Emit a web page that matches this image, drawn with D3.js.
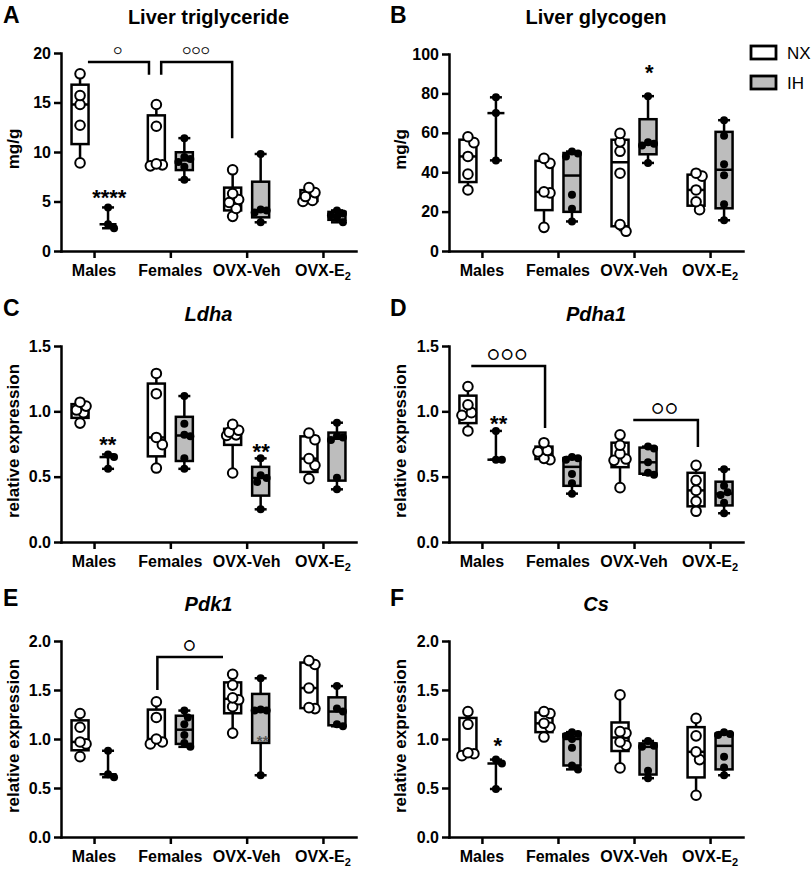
<!DOCTYPE html>
<html><head><meta charset="utf-8">
<script src="https://cdn.jsdelivr.net/npm/d3@7"></script>
<style>
body{margin:0;background:#fff;}
svg{display:block;font-family:"Liberation Sans",Arial,Helvetica,sans-serif;}
</style></head><body>
<svg id="chart" width="812" height="871"></svg>
<script>
// ---------------- DATA ----------------
const categories = ["Males", "Females", "OVX-Veh", "OVX-E2"];
const groupNames = ["NX", "IH"];

// A: Liver triglyceride (mg/g)
const trigNX = [[8.9,12.7,14.8,15.7,17.9],[8.6,8.7,8.8,12.6,14.8],[3.5,4.3,4.9,5.2,5.8,8.2],[5.0,5.1,5.5,5.9,6.4]];
const trigIH = [[2.3,2.7,4.4],[7.2,8.5,9.0,9.3,9.5,11.4],[2.9,3.9,4.1,4.2,9.8],[2.9,3.4,3.6,3.8,4.1]];
const trigTicks = [0,5,10,15,20];
const trigBrackets = [
  {x1:-0.08, x2:0.72, y:19.1, end1:null, end2:17.8, label:"○"},
  {x1:0.88, x2:1.81, y:19.1, end1:17.8, end2:11.4, label:"○○○"}
];
const trigStars = [{u:0.2, v:5.96, text:"****"}];

// B: Liver glycogen (mg/g)
const glyNX = [[31,39,48,55,58],[12,29.5,30,44.5,47],[10,13.4,39.5,50.6,55.4,59.7],[21,25,31,38,39.5]];
const glyIH = [[46,70,78],[15,21.5,28.6,48,49.5,50.5],[44.7,53.5,54.5,55.2,78.6],[15.6,23.7,38.5,44,58.5,66.4]];
const glyTicks = [0,20,40,60,80,100];
const glyBrackets = [];
const glyStars = [{u:2.2, v:93.4, text:"*"}];

// C: Ldha (relative expression)
const ldhaNX = [[0.91,0.99,1.01,1.04,1.07],[0.566,0.745,0.80,1.135,1.29],[0.528,0.815,0.82,0.84,0.855,0.90],[0.485,0.587,0.638,0.783,0.834]];
const ldhaIH = [[0.56,0.65,0.67],[0.56,0.64,0.81,0.82,0.905,1.117],[0.25,0.46,0.49,0.51,0.64],[0.403,0.492,0.78,0.80,0.812,0.913]];
const exprTicks15 = [0,0.5,1.0,1.5];
const ldhaBrackets = [];
const ldhaStars = [{u:0.18, v:0.788, text:"**"},{u:2.19, v:0.735, text:"**"}];

// D: Pdha1
const pdhaNX = [[0.85,0.97,0.99,1.05,1.19],[0.63,0.64,0.69,0.70,0.76],[0.416,0.625,0.635,0.676,0.74,0.82],[0.235,0.311,0.395,0.472,0.587]];
const pdhaIH = [[0.63,0.63,0.85],[0.37,0.45,0.52,0.63,0.64,0.65],[0.515,0.53,0.61,0.715,0.73],[0.22,0.30,0.36,0.38,0.43,0.556]];
const pdhaBrackets = [
  {x1:-0.14, x2:0.83, y:1.347, end1:null, end2:0.872, label:"○○○"},
  {x1:1.99, x2:2.84, y:0.934, end1:null, end2:0.727, label:"○○"}
];
const pdhaStars = [{u:0.22, v:0.949, text:"**"}];

// E: Pdk1
const pdkNX = [[0.82,0.95,0.97,1.12,1.26],[0.95,0.97,1.0,1.22,1.38],[1.06,1.33,1.40,1.42,1.55,1.66],[1.31,1.32,1.52,1.76,1.80]];
const pdkIH = [[0.61,0.64,0.88],[0.92,0.96,1.04,1.15,1.22,1.29],[0.63,1.29,1.29,1.30,1.62],[1.13,1.15,1.28,1.31,1.54]];
const exprTicks20 = [0,0.5,1.0,1.5,2.0];
const pdkBrackets = [{x1:0.83, x2:1.69, y:1.837, end1:1.5, end2:null, label:"○"}];
const pdkStars = [{u:2.21, v:1.02, text:"**", small:true}];

// F: Cs
const csNX = [[0.83,0.85,0.86,1.15,1.28],[1.02,1.12,1.16,1.26,1.28],[0.705,0.935,0.97,1.06,1.075,1.45],[0.426,0.79,0.869,1.032,1.21]];
const csIH = [[0.49,0.75,0.79],[0.69,0.73,0.91,1.0,1.03,1.05,1.07],[0.60,0.675,0.92,0.93,0.98],[0.63,0.71,0.82,1.04,1.05,1.07]];
const csBrackets = [];
const csStars = [{u:0.21, v:0.99, text:"*"}];

// ---------------- LAYOUT / STYLE ----------------
const FONT = '"Liberation Sans", Arial, Helvetica, sans-serif';
const RING_FONT = '"DejaVu Sans", sans-serif';
const IH_FILL = "#bdbdbd";
const LW = 2.5;
const fmtInt = d3.format("d"), fmt1 = d3.format(".1f");

const panels = [
  {letter:"A", title:"Liver triglyceride", italic:false, ylab:"mg/g", nx:trigNX, ih:trigIH, ticks:trigTicks, ymax:20, fmt:fmtInt,
   brackets:trigBrackets, stars:trigStars, left:61, right:356, top:53, bottom:251, lx:3, ly:23, ty:24, ringSize:9, ringGap:1.5, ringStroke:0.3},
  {letter:"B", title:"Liver glycogen", italic:false, ylab:"mg/g", nx:glyNX, ih:glyIH, ticks:glyTicks, ymax:100, fmt:fmtInt,
   brackets:glyBrackets, stars:glyStars, left:449, right:743, top:54, bottom:251, lx:390, ly:23, ty:24, ringSize:13, ringGap:2, ringStroke:0.6},
  {letter:"C", title:"Ldha", italic:true, ylab:"relative expression", nx:ldhaNX, ih:ldhaIH, ticks:exprTicks15, ymax:1.5, fmt:fmt1,
   brackets:ldhaBrackets, stars:ldhaStars, left:61, right:356, top:346, bottom:542, lx:3, ly:316, ty:321, ringSize:13, ringGap:2, ringStroke:0.6},
  {letter:"D", title:"Pdha1", italic:true, ylab:"relative expression", nx:pdhaNX, ih:pdhaIH, ticks:exprTicks15, ymax:1.5, fmt:fmt1,
   brackets:pdhaBrackets, stars:pdhaStars, left:449, right:743, top:346, bottom:542, lx:390, ly:316, ty:321, ringSize:13, ringGap:2.5, ringStroke:0.6},
  {letter:"E", title:"Pdk1", italic:true, ylab:"relative expression", nx:pdkNX, ih:pdkIH, ticks:exprTicks20, ymax:2.0, fmt:fmt1,
   brackets:pdkBrackets, stars:pdkStars, left:61, right:356, top:641, bottom:837, lx:3, ly:606, ty:611, ringSize:13, ringGap:2, ringStroke:0.6},
  {letter:"F", title:"Cs", italic:true, ylab:"relative expression", nx:csNX, ih:csIH, ticks:exprTicks20, ymax:2.0, fmt:fmt1,
   brackets:csBrackets, stars:csStars, left:449, right:743, top:641, bottom:837, lx:390, ly:606, ty:611, ringSize:13, ringGap:2, ringStroke:0.6}
];

const svg = d3.select("#chart");

// GraphPad-style percentile ((n+1)p with interpolation)
function pct(s, p){
  const n = s.length, pos = (n + 1) * p;
  if (pos <= 1) return s[0];
  if (pos >= n) return s[n - 1];
  const lo = Math.floor(pos), f = pos - lo;
  return s[lo - 1] + f * (s[lo] - s[lo - 1]);
}

// compact scatter offsets (points stay roughly inside the box)
function swarm(ys, r){
  const order = ys.map((y,i)=>i).sort((a,b)=>ys[a]-ys[b]);
  const placed = [], offs = new Array(ys.length).fill(0);
  const cands = [0,3.5,-3.5,6,-6];
  order.forEach(i=>{
    let best = 0, bestScore = -Infinity;
    for (const c of cands){
      let minD = Infinity;
      placed.forEach(pp=>{ const d = Math.hypot(pp.x-c, pp.y-ys[i]); if (d<minD) minD=d; });
      if (minD >= 2*r*0.7){ best = c; bestScore = Infinity; break; }
      if (minD > bestScore){ bestScore = minD; best = c; }
    }
    offs[i] = best; placed.push({x:best, y:ys[i]});
  });
  return offs;
}

panels.forEach(p=>{
  const g = svg.append("g");
  const x = d3.scalePoint().domain(categories).range([p.left, p.right]).padding(0.433);
  const step = x.step();
  const ux = u => x(categories[0]) + u * step;
  const y = d3.scaleLinear().domain([0, p.ymax]).range([p.bottom, p.top]);

  // axes
  const gy = g.append("g").attr("transform", `translate(${p.left},0)`)
    .call(d3.axisLeft(y).tickValues(p.ticks).tickSize(7).tickSizeOuter(0).tickPadding(3).tickFormat(p.fmt));
  const gx = g.append("g").attr("transform", `translate(0,${p.bottom})`)
    .call(d3.axisBottom(x).tickSize(7).tickSizeOuter(0).tickFormat(""));
  [gy, gx].forEach(a=>{
    a.selectAll("path, line").attr("stroke", "#000").attr("stroke-width", LW);
    a.select(".domain").attr("stroke-linecap", "square");
  });
  gy.selectAll("text").attr("font-size", 16).attr("font-weight", "bold").attr("font-family", FONT).attr("fill", "#000");

  // x labels
  categories.forEach(c=>{
    const t = g.append("text").attr("x", x(c)).attr("y", p.bottom + 25).attr("text-anchor", "middle")
      .attr("font-size", 16).attr("font-weight", "bold");
    if (c === "OVX-E2"){
      t.append("tspan").text("OVX-E");
      t.append("tspan").text("2").attr("font-size", 11).attr("dy", 4);
    } else t.text(c);
  });

  // y label
  const ylx = p.left < 200 ? 18.5 : 406;
  g.append("text").attr("transform", `translate(${ylx},${(p.top + p.bottom) / 2 - 3}) rotate(-90)`)
    .attr("text-anchor", "middle").attr("font-size", 17).attr("font-weight", "bold").text(p.ylab);

  // title & letter
  g.append("text").attr("x", (p.left + p.right) / 2).attr("y", p.ty).attr("text-anchor", "middle")
    .attr("font-size", 20).attr("font-weight", "bold").attr("font-style", p.italic ? "italic" : "normal").text(p.title);
  g.append("text").attr("x", p.lx).attr("y", p.ly).attr("font-size", 23).attr("font-weight", "bold").text(p.letter);

  // boxes
  [p.nx, p.ih].forEach((data, gi)=>{
    const isIH = gi === 1;
    data.forEach((vals, ci)=>{
      const cx = x(categories[ci]) + (isIH ? 14 : -14);
      const s = vals.slice().sort(d3.ascending);
      const q1 = pct(s, .25), med = pct(s, .5), q3 = pct(s, .75), mn = s[0], mx = s[s.length - 1];
      const bg = g.append("g");
      bg.append("line").attr("x1", cx).attr("x2", cx).attr("y1", y(mn)).attr("y2", y(mx))
        .attr("stroke", "#000").attr("stroke-width", LW);
      if (isIH){
        [mn, mx].forEach(v=> bg.append("line").attr("x1", cx - 6).attr("x2", cx + 6).attr("y1", y(v)).attr("y2", y(v))
          .attr("stroke", "#000").attr("stroke-width", LW));
      }
      if (s.length > 3){
        bg.append("rect").attr("x", cx - 8.5).attr("y", y(q3)).attr("width", 17).attr("height", y(q1) - y(q3))
          .attr("fill", isIH ? IH_FILL : "#fff").attr("stroke", "#000").attr("stroke-width", LW);
      }
      bg.append("line").attr("x1", cx - 8.5).attr("x2", cx + 8.5).attr("y1", y(med)).attr("y2", y(med))
        .attr("stroke", "#000").attr("stroke-width", LW);
      const r = isIH ? 4 : 4.8;
      const ys = vals.map(v=>y(v));
      const offs = swarm(ys, r + 1);
      vals.forEach((v, i)=>{
        bg.append("circle").attr("cx", cx + offs[i]).attr("cy", y(v)).attr("r", r)
          .attr("fill", isIH ? "#000" : "#fff").attr("stroke", "#000").attr("stroke-width", isIH ? 0 : 2);
      });
    });
  });

  // brackets
  p.brackets.forEach(b=>{
    const x1 = ux(b.x1), x2 = ux(b.x2), yy = y(b.y);
    const pth = d3.path();
    pth.moveTo(x1, b.end1 != null ? y(b.end1) : yy);
    pth.lineTo(x1, yy); pth.lineTo(x2, yy);
    pth.lineTo(x2, b.end2 != null ? y(b.end2) : yy);
    g.append("path").attr("d", pth.toString()).attr("fill", "none").attr("stroke", "#000").attr("stroke-width", LW);
    g.append("text").attr("x", (x1 + x2) / 2).attr("y", yy - 12).attr("text-anchor", "middle")
      .attr("dominant-baseline", "central").attr("font-family", RING_FONT).attr("font-size", p.ringSize)
      .attr("font-weight", "bold").attr("stroke", "#000").attr("stroke-width", p.ringStroke)
      .attr("letter-spacing", p.ringGap).text(b.label);
  });

  // stars
  p.stars.forEach(st=>{
    const fs = st.small ? 15 : 22;
    g.append("text").attr("x", ux(st.u)).attr("y", y(st.v) + 0.57 * fs).attr("text-anchor", "middle")
      .attr("font-size", fs).attr("font-weight", "bold").attr("fill", st.small ? "#555" : "#000").text(st.text);
  });
});

// legend
const leg = svg.append("g");
groupNames.forEach((nm, i)=>{
  leg.append("rect").attr("x", 751).attr("y", 46 + i * 30).attr("width", 25).attr("height", 13)
    .attr("fill", i ? IH_FILL : "#fff").attr("stroke", "#000").attr("stroke-width", 2.8);
  leg.append("text").attr("x", 787).attr("y", 58.5 + i * 30).attr("font-size", 17).text(nm);
});
</script>
</body></html>
